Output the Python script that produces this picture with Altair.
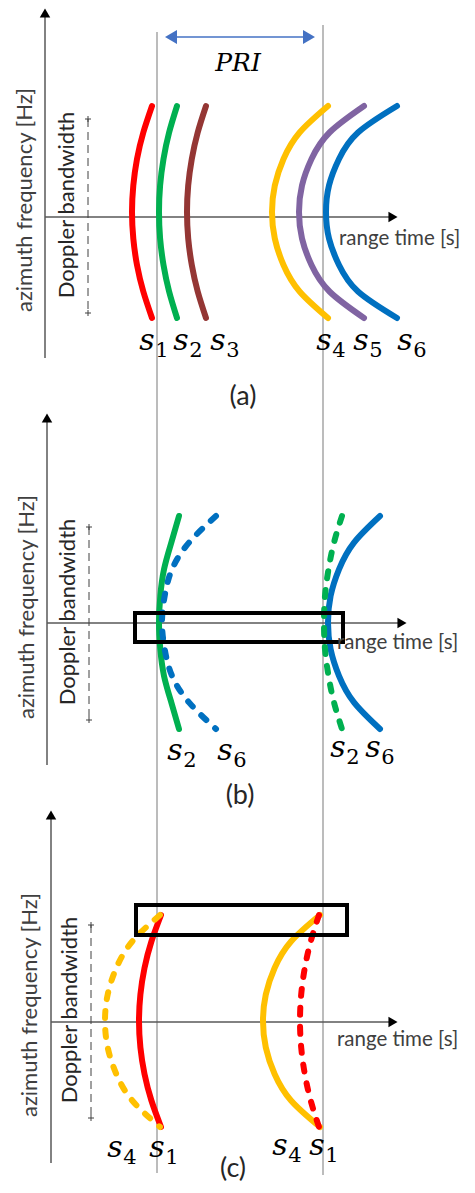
import altair as alt
import pandas as pd

# ---------------- data (diagram coordinates, in px) ----------------
# curves: id, colour, dashed?, panel, x at 9 sample heights from top to bottom
curve_id = ["a1", "a2", "a3", "a4", "a5", "a6",
            "b2", "b6", "b2r", "b6r",
            "c1", "c4", "c4r", "c1r"]
curve_color = ["#FF0000", "#00B050", "#943634", "#FFC000", "#8064A2", "#0070C0",
               "#00B050", "#0070C0", "#00B050", "#0070C0",
               "#FF0000", "#FFC000", "#FFC000", "#FF0000"]
curve_dashed = [False, False, False, False, False, False,
                False, True, True, False,
                False, True, False, True]
curve_panel = ["a", "a", "a", "a", "a", "a", "b", "b", "b", "b", "c", "c", "c", "c"]
curve_x = [
    [152, 143.3, 137, 133.3, 132, 133.3, 137, 143.3, 152],
    [177, 169.1, 163.5, 160.1, 159, 160.1, 163.5, 169.1, 177],
    [206, 197.7, 191.8, 188.2, 187, 188.2, 191.8, 197.7, 206],
    [328, 299.6, 283.5, 274.8, 272, 274.8, 283.5, 299.6, 328],
    [364, 329.5, 311.5, 302, 299, 302, 311.5, 329.5, 364],
    [397, 358, 339, 329, 326, 329, 339, 358, 397],
    [179, 171.3, 164, 160.3, 159, 160.3, 164, 171.3, 179],
    [216, 189, 172, 164.7, 162, 164.7, 172, 189, 216],
    [342, 334, 328.5, 325, 324, 325, 328.5, 334, 342],
    [380, 354, 339, 330.6, 328, 330.6, 339, 354, 380],
    [161, 151.4, 144.5, 140.4, 139, 140.4, 144.5, 151.4, 161],
    [160, 132.2, 116.3, 107.7, 105, 107.7, 116.3, 132.2, 160],
    [320, 291, 274.6, 265.8, 263, 265.8, 274.6, 291, 320],
    [319, 310.7, 304.8, 301.2, 300, 301.2, 304.8, 310.7, 319],
]
panel_curve_y = {
    "a": [106, 132.5, 159, 185.5, 212, 238.5, 265, 291.5, 318],
    "b": [516, 542.6, 569.3, 595.9, 622.5, 649.1, 675.8, 702.4, 729],
    "c": [915, 941.5, 968, 994.5, 1021, 1047.5, 1074, 1100.5, 1127],
}

# panel axes
yaxis_x = [45, 47, 51]
yaxis_top = [8, 413, 810]
yaxis_bottom = [358, 765, 1163]
xaxis_y = [217, 623, 1022]
xaxis_end = [398, 407, 398]
doppler_x = [88, 89, 91]
doppler_top = [119, 527, 925]
doppler_bottom = [313, 720, 1118]
axis_label_cy = [200, 607, 1005]
axis_label_x = [25, 27, 30]
doppler_label_cy = [205, 612, 1010]
doppler_label_x = [67, 68, 70]
range_label_x = [339, 337, 337]
range_label_y = [239, 643, 1040]
panel_tag = ["(a)", "(b)", "(c)"]
panel_tag_x = [243, 240, 233]
panel_tag_y = [397, 796, 1169]

# PRI guide lines
pri_line_x = [157, 323]
pri_line_top = [32, 25]
pri_line_bottom = [1173, 1175]

# highlight boxes
box_x1 = [135, 136]
box_x2 = [343, 347]
box_y1 = [613, 905]
box_y2 = [642, 935]

# signal labels: subscript digit, position of "s"
sig_digit = ["1", "2", "3", "4", "5", "6", "2", "6", "2", "6", "4", "1", "4", "1"]
sig_x = [147, 181, 218, 324, 361, 405, 175, 225, 338, 373, 115, 157, 280, 317]
sig_y = [341, 341, 341, 341, 341, 341, 751, 751, 748, 748, 1148, 1148, 1146, 1146]

# ---------------- build tables ----------------
rows = []
for cid, col, dsh, pan, xs in zip(curve_id, curve_color, curve_dashed, curve_panel, curve_x):
    for o, (xv, yv) in enumerate(zip(xs, panel_curve_y[pan])):
        rows.append(dict(cid=cid, color=col, dashed=dsh, o=o, x=xv, y=yv))
curves = pd.DataFrame(rows)

XS = alt.Scale(domain=[8, 467])
YS = alt.Scale(domain=[8, 1185], reverse=True)


def X(f="x"):
    return alt.X(f"{f}:Q", scale=XS, axis=None)


def Y(f="y"):
    return alt.Y(f"{f}:Q", scale=YS, axis=None)


seg = []
for i in range(3):
    seg.append(dict(x=yaxis_x[i], x2=yaxis_x[i], y=yaxis_top[i] + 8, y2=yaxis_bottom[i]))
    seg.append(dict(x=yaxis_x[i], x2=xaxis_end[i] - 8, y=xaxis_y[i], y2=xaxis_y[i]))
axes_df = pd.DataFrame(seg)

heads_up = pd.DataFrame(dict(x=yaxis_x, y=[t + 5 for t in yaxis_top]))
heads_right = pd.DataFrame(dict(x=[e - 5 for e in xaxis_end], y=xaxis_y))

dopp_df = pd.DataFrame(dict(x=doppler_x, y=doppler_top, y2=doppler_bottom))
tick_rows = []
for i in range(3):
    for yy in (doppler_top[i], doppler_bottom[i]):
        tick_rows.append(dict(x=doppler_x[i] - 3, x2=doppler_x[i] + 3, y=yy, y2=yy))
        tick_rows.append(dict(x=doppler_x[i], x2=doppler_x[i], y=yy - 3, y2=yy + 3))
ticks_df = pd.DataFrame(tick_rows)

pri_df = pd.DataFrame(dict(x=pri_line_x, y=pri_line_top, y2=pri_line_bottom))
pri_arrow = pd.DataFrame(dict(x=[170], x2=[310], y=[37]))
pri_left = pd.DataFrame(dict(x=[171], y=[37]))
pri_right = pd.DataFrame(dict(x=[309], y=[37]))

box_df = pd.DataFrame(dict(x=box_x1, x2=box_x2, y=box_y1, y2=box_y2))

axis_text = pd.DataFrame(dict(x=axis_label_x, y=axis_label_cy, t=["azimuth frequency [Hz]"] * 3))
dopp_text = pd.DataFrame(dict(x=doppler_label_x, y=doppler_label_cy, t=["Doppler bandwidth"] * 3))
range_text = pd.DataFrame(dict(x=range_label_x, y=range_label_y, t=["range time [s]"] * 3))
tag_text = pd.DataFrame(dict(x=panel_tag_x, y=panel_tag_y, t=panel_tag))
s_text = pd.DataFrame(dict(x=sig_x, y=sig_y, t=["s"] * len(sig_x)))
d_text = pd.DataFrame(dict(x=[v + 15 for v in sig_x], y=[v + 10 for v in sig_y], t=sig_digit))
pri_text = pd.DataFrame(dict(x=[238], y=[63], t=["PRI"]))

# ---------------- layers ----------------
L = []
L.append(alt.Chart(pri_df).mark_rule(color="#A6A6A6", strokeWidth=1.5).encode(x=X(), y=Y(), y2="y2"))
L.append(alt.Chart(axes_df).mark_rule(color="#595959", strokeWidth=1.5).encode(x=X(), x2="x2", y=Y(), y2="y2"))
L.append(alt.Chart(heads_up).mark_point(shape="triangle-up", filled=True, color="#000000", size=110, opacity=1)
         .encode(x=X(), y=Y()))
L.append(alt.Chart(heads_right).mark_point(shape="triangle-right", filled=True, color="#000000", size=110, opacity=1)
         .encode(x=X(), y=Y()))
L.append(alt.Chart(dopp_df).mark_rule(color="#404040", strokeWidth=1, strokeDash=[8, 5]).encode(x=X(), y=Y(), y2="y2"))
L.append(alt.Chart(ticks_df).mark_rule(color="#404040", strokeWidth=1).encode(x=X(), x2="x2", y=Y(), y2="y2"))
L.append(alt.Chart(pri_arrow).mark_rule(color="#4472C4", strokeWidth=1.5).encode(x=X(), x2="x2", y=Y()))
L.append(alt.Chart(pri_left).mark_point(shape="triangle-left", filled=True, color="#4472C4", size=190, opacity=1)
         .encode(x=X(), y=Y()))
L.append(alt.Chart(pri_right).mark_point(shape="triangle-right", filled=True, color="#4472C4", size=190, opacity=1)
         .encode(x=X(), y=Y()))
L.append(alt.Chart(curves).transform_filter("!datum.dashed")
         .mark_line(strokeWidth=6, strokeCap="round", interpolate="natural")
         .encode(x=X(), y=Y(), order="o:Q", detail="cid:N", color=alt.Color("color:N", scale=None)))
L.append(alt.Chart(curves).transform_filter("datum.dashed")
         .mark_line(strokeWidth=6, strokeCap="round", strokeDash=[7, 12], interpolate="natural")
         .encode(x=X(), y=Y(), order="o:Q", detail="cid:N", color=alt.Color("color:N", scale=None)))
L.append(alt.Chart(box_df).mark_rect(filled=False, stroke="#000000", strokeWidth=4)
         .encode(x=X(), x2="x2", y=Y(), y2="y2"))
L.append(alt.Chart(axis_text).mark_text(angle=270, font="Lato", fontSize=22, color="#404040", align="center", baseline="middle")
         .encode(x=X(), y=Y(), text="t:N"))
L.append(alt.Chart(dopp_text).mark_text(angle=270, font="Lato", fontSize=22, color="#262626", align="center", baseline="middle")
         .encode(x=X(), y=Y(), text="t:N"))
L.append(alt.Chart(range_text).mark_text(font="Lato", fontSize=20.5, color="#404040", align="left", baseline="middle")
         .encode(x=X(), y=Y(), text="t:N"))
L.append(alt.Chart(tag_text).mark_text(font="Lato", fontSize=27, color="#262626", align="center", baseline="middle")
         .encode(x=X(), y=Y(), text="t:N"))
L.append(alt.Chart(s_text).mark_text(font="DejaVu Serif", fontStyle="italic", fontSize=30, color="#000000", align="center", baseline="middle")
         .encode(x=X(), y=Y(), text="t:N"))
L.append(alt.Chart(d_text).mark_text(font="DejaVu Serif", fontSize=21, color="#000000", align="center", baseline="middle")
         .encode(x=X(), y=Y(), text="t:N"))
L.append(alt.Chart(pri_text).mark_text(font="DejaVu Serif", fontStyle="italic", fontSize=25, color="#000000", align="center", baseline="middle")
         .encode(x=X(), y=Y(), text="t:N"))

chart = alt.layer(*L).properties(
    width=459, height=1177, padding=0,
    autosize=alt.AutoSizeParams(type="none"),
).configure_view(stroke=None)

chart.save("out.html", embed_options={"renderer": "svg", "actions": False})
